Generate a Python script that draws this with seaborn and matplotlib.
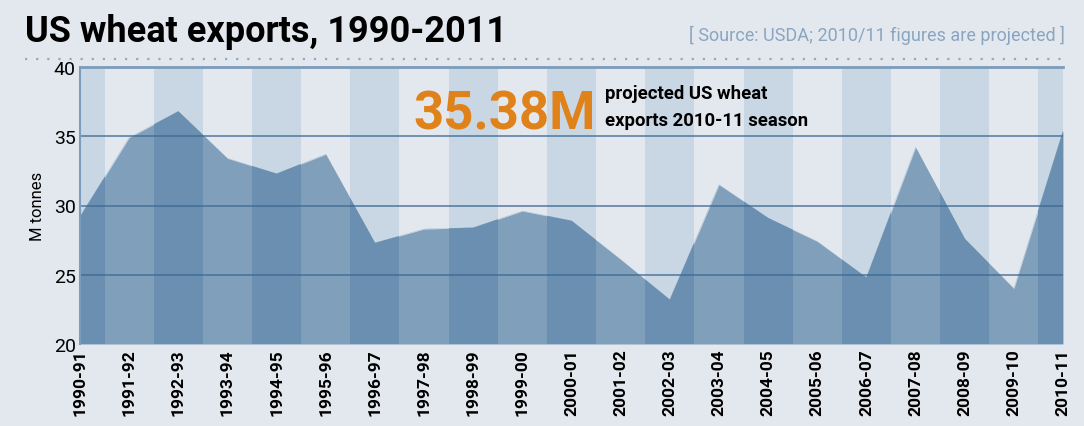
import matplotlib
matplotlib.use("Agg")
import matplotlib.pyplot as plt
import seaborn as sns
import pandas as pd
from matplotlib.lines import Line2D

seasons = ["1990-91", "1991-92", "1992-93", "1993-94", "1994-95", "1995-96",
           "1996-97", "1997-98", "1998-99", "1999-00", "2000-01", "2001-02",
           "2002-03", "2003-04", "2004-05", "2005-06", "2006-07", "2007-08",
           "2008-09", "2009-10", "2010-11"]
exports = [29.2, 34.9, 36.8, 33.4, 32.3, 33.7, 27.3, 28.3, 28.4, 29.6, 28.9,
           26.1, 23.2, 31.5, 29.1, 27.4, 24.8, 34.2, 27.6, 24.0, 35.38]
y_ticks = [20, 25, 30, 35, 40]

df = pd.DataFrame({"idx": range(len(seasons)), "season": seasons, "value": exports})

sns.set_theme(style="white")
FONT = ["Roboto", "DejaVu Sans"]
plt.rcParams["font.family"] = FONT

BG = "#e3e8ef"
BAND = "#c9d7e4"
AREA = "#7f9fbb"
AREA_DARK = "#6a8fb0"
GRID = "#3f6a93"
EDGE = "#7b9cba"

fig = plt.figure(figsize=(10.84, 4.27), dpi=100, facecolor=BG)
ax = fig.add_axes([80 / 1084, 1 - 345 / 427, (1063 - 80) / 1084, (345 - 68) / 427])
ax.set_facecolor(BG)

n = len(seasons)
for i in range(0, n, 2):
    ax.axvspan(i - 0.5, i + 0.5, color=BAND, lw=0, zorder=0)

sns.lineplot(data=df, x="idx", y="value", color=AREA, lw=0.2, ax=ax, zorder=0.9)
poly = ax.fill_between(df["idx"], 20, df["value"], color=AREA, lw=0, zorder=1)

clip_path = poly.get_paths()[0]
for i in range(0, n, 2):
    r = ax.axvspan(i - 0.5, i + 0.5, color=AREA_DARK, lw=0, zorder=1.2)
    r.set_clip_path(clip_path, ax.transData)

for yv in [25, 30, 35]:
    ax.axhline(yv, color=GRID, lw=1.3, alpha=0.75, zorder=2)

ax.set_xlim(0, n - 1)
ax.set_ylim(20, 40)
ax.set_yticks(y_ticks)
ax.set_yticklabels([str(v) for v in y_ticks], fontsize=14, family=FONT)
ax.set_xticks(range(n))
ax.set_xticklabels(seasons, rotation=90, fontsize=12.5, fontweight="bold", family=FONT)
ax.tick_params(axis="both", length=0, pad=3, colors="black")
ax.set_xlabel("")
ax.set_ylabel("M tonnes", fontsize=12, family=FONT, labelpad=6, color="black")

for s in ["bottom", "right"]:
    ax.spines[s].set_visible(False)
ax.spines["top"].set_color(EDGE)
ax.spines["top"].set_linewidth(2)
ax.spines["left"].set_color(EDGE)
ax.spines["left"].set_linewidth(1.5)

fig.text(25 / 1084, 1 - 42 / 427, "US wheat exports, 1990-2011", fontsize=26,
         fontweight="bold", family=FONT, ha="left", va="baseline", color="black")
fig.text(1065 / 1084, 1 - 41 / 427, "[ Source: USDA; 2010/11 figures are projected ]",
         fontsize=13, family=FONT, ha="right", va="baseline", color="#8aa5c0")
fig.add_artist(Line2D([25 / 1084, 1065 / 1084], [1 - 60 / 427, 1 - 60 / 427],
                      transform=fig.transFigure, color="#8eaac4", lw=1.6,
                      linestyle=(0, (1, 4))))

fig.text(413 / 1084, 1 - 130 / 427, "35.38M", fontsize=38, fontweight="bold",
         family=FONT, color="#e0821a", ha="left", va="baseline")
fig.text(605 / 1084, 1 - 99 / 427, "projected US wheat", fontsize=13.3,
         fontweight="bold", family=FONT, ha="left", va="baseline", color="black")
fig.text(605 / 1084, 1 - 126 / 427, "exports 2010-11 season", fontsize=13.3,
         fontweight="bold", family=FONT, ha="left", va="baseline", color="black")

fig.savefig("out.png", dpi=100, facecolor=BG)
